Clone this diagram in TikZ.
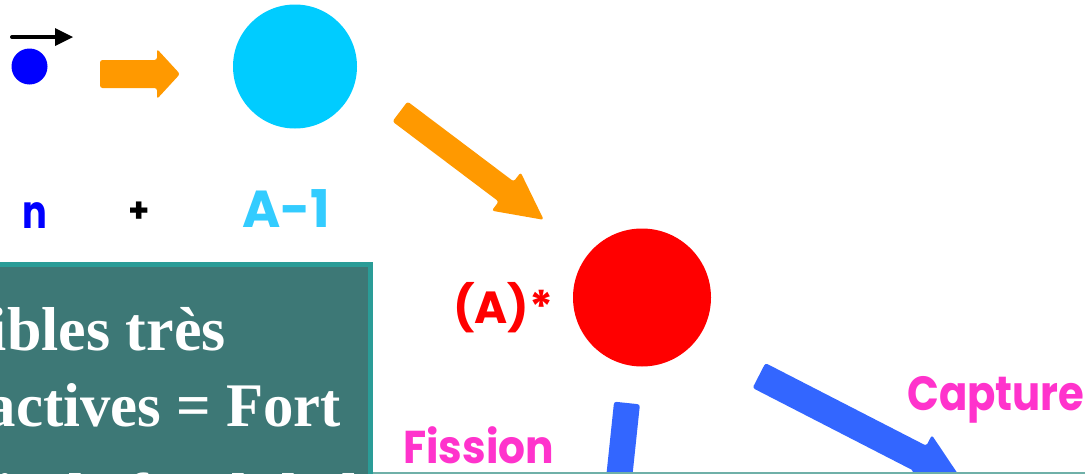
\documentclass[tikz,border=0pt]{standalone}
\usepackage{graphicx}
\usepackage{fontspec}
\newfontfamily\comic{Poppins}
\newfontfamily\serifb{Liberation Serif}
\definecolor{orangeA}{HTML}{FF9900}
\definecolor{cyanA}{HTML}{00CCFF}
\definecolor{cyanT}{HTML}{33CCFF}
\definecolor{blueDot}{HTML}{0000FF}
\definecolor{redA}{HTML}{FF0000}
\definecolor{pinkA}{HTML}{FF33CC}
\definecolor{blueArr}{HTML}{3366FF}
\definecolor{boxFill}{HTML}{3D7876}
\definecolor{boxBorder}{HTML}{2A9C97}
\definecolor{lineTeal}{HTML}{6FB0A8}
% #1 start coordinate, #2 angle, #3 length, #4 shaft width, #5 head width, #6 head length, #7 colour
\newcommand\blockarrow[7]{%
  \begin{scope}[shift={#1}, rotate=#2]
    \fill[#7, rounded corners=2.5pt] (0,-#4/2) -- ({#3-#6},-#4/2) -- ({#3-#6},-#5/2) -- (#3,0)
      -- ({#3-#6},#5/2) -- ({#3-#6},#4/2) -- (0,#4/2) -- cycle;
  \end{scope}}
\tikzset{
  ball/.style={circle, inner sep=0pt},
  lab/.style={anchor=base west, inner sep=0pt, font=\comic\bfseries},
  serifline/.style={inner sep=0pt, text=white, font=\serifb\bfseries\fontsize{62}{72}\selectfont}
}
\begin{document}
\begin{tikzpicture}[x=1pt,y=-1pt]
\useasboundingbox (0,0) rectangle (1085,474);
\clip (0,0) rectangle (1085,474);
\fill[white] (0,0) rectangle (1085,474);

% neutron with velocity arrow
\node[ball, fill=blueDot, minimum size=36pt] (n) at (29.5,66.5) {};
\coordinate (v0) at (12,37);
\coordinate (v1) at (57,37);
\draw[line width=4pt, line cap=round] (v0) -- (v1);
\fill (55,28) -- (73,37) -- (55,46) -- cycle;

% orange arrow neutron -> target
\coordinate (oa) at (100,74);
\blockarrow{(oa)}{0}{80}{28}{50}{23}{orangeA}

% target nucleus
\node[ball, fill=cyanA, minimum size=124pt] (tgt) at (295,66.5) {};

% labels
\node[lab, text=blueDot, font=\comic\bfseries\fontsize{46}{52}\selectfont] (ln) at (22,228) {\scalebox{0.8}[1]{n}};
\node[lab, font=\comic\bfseries\fontsize{34}{40}\selectfont] (lp) at (128,222) {+};
\node[lab, text=cyanT, font=\comic\bfseries\fontsize{52}{58}\selectfont] (la) at (242,227) {A-1};

% orange arrow target -> compound
\coordinate (ob) at (400,111.5);
\blockarrow{(ob)}{-37}{180}{25}{48}{47}{orangeA}

% compound nucleus
\node[ball, fill=redA, minimum size=138pt] (cmp) at (642,297.5) {};
\node[lab, text=redA, font=\comic\bfseries\fontsize{45}{50}\selectfont] (lc) at (453,323) {(A)*};

% blue arrows
\coordinate (fa) at (627,403);
\blockarrow{(fa)}{-96}{160}{26}{50}{47}{blueArr}
\coordinate (ca) at (759,375.5);
\blockarrow{(ca)}{-27.2}{228}{28}{52}{47}{blueArr}

\node[lab, text=pinkA, font=\comic\bfseries\fontsize{46}{52}\selectfont] (lf) at (403,463) {\scalebox{0.92}[1]{Fission}};
\node[lab, text=pinkA, font=\comic\bfseries\fontsize{48}{54}\selectfont] (lcap) at (907,410) {\scalebox{0.87}[1]{Capture}};

% text box
\draw[line width=5pt, draw=boxBorder, fill=boxFill] (-10,264.5) rectangle (370.5,530);
\node[serifline, anchor=base east] (t1) at (226,350) {Cibles très};
\node[serifline, anchor=base east] (t2) at (341,426) {\scalebox{0.98}[1]{radioactives = Fort}};
\node[serifline, anchor=base west] (t3) at (-100,516) {bruit de fond de la};

% bottom line
\draw[lineTeal, line width=2.5pt] (373,473) -- (1090,473);
\end{tikzpicture}
\end{document}
